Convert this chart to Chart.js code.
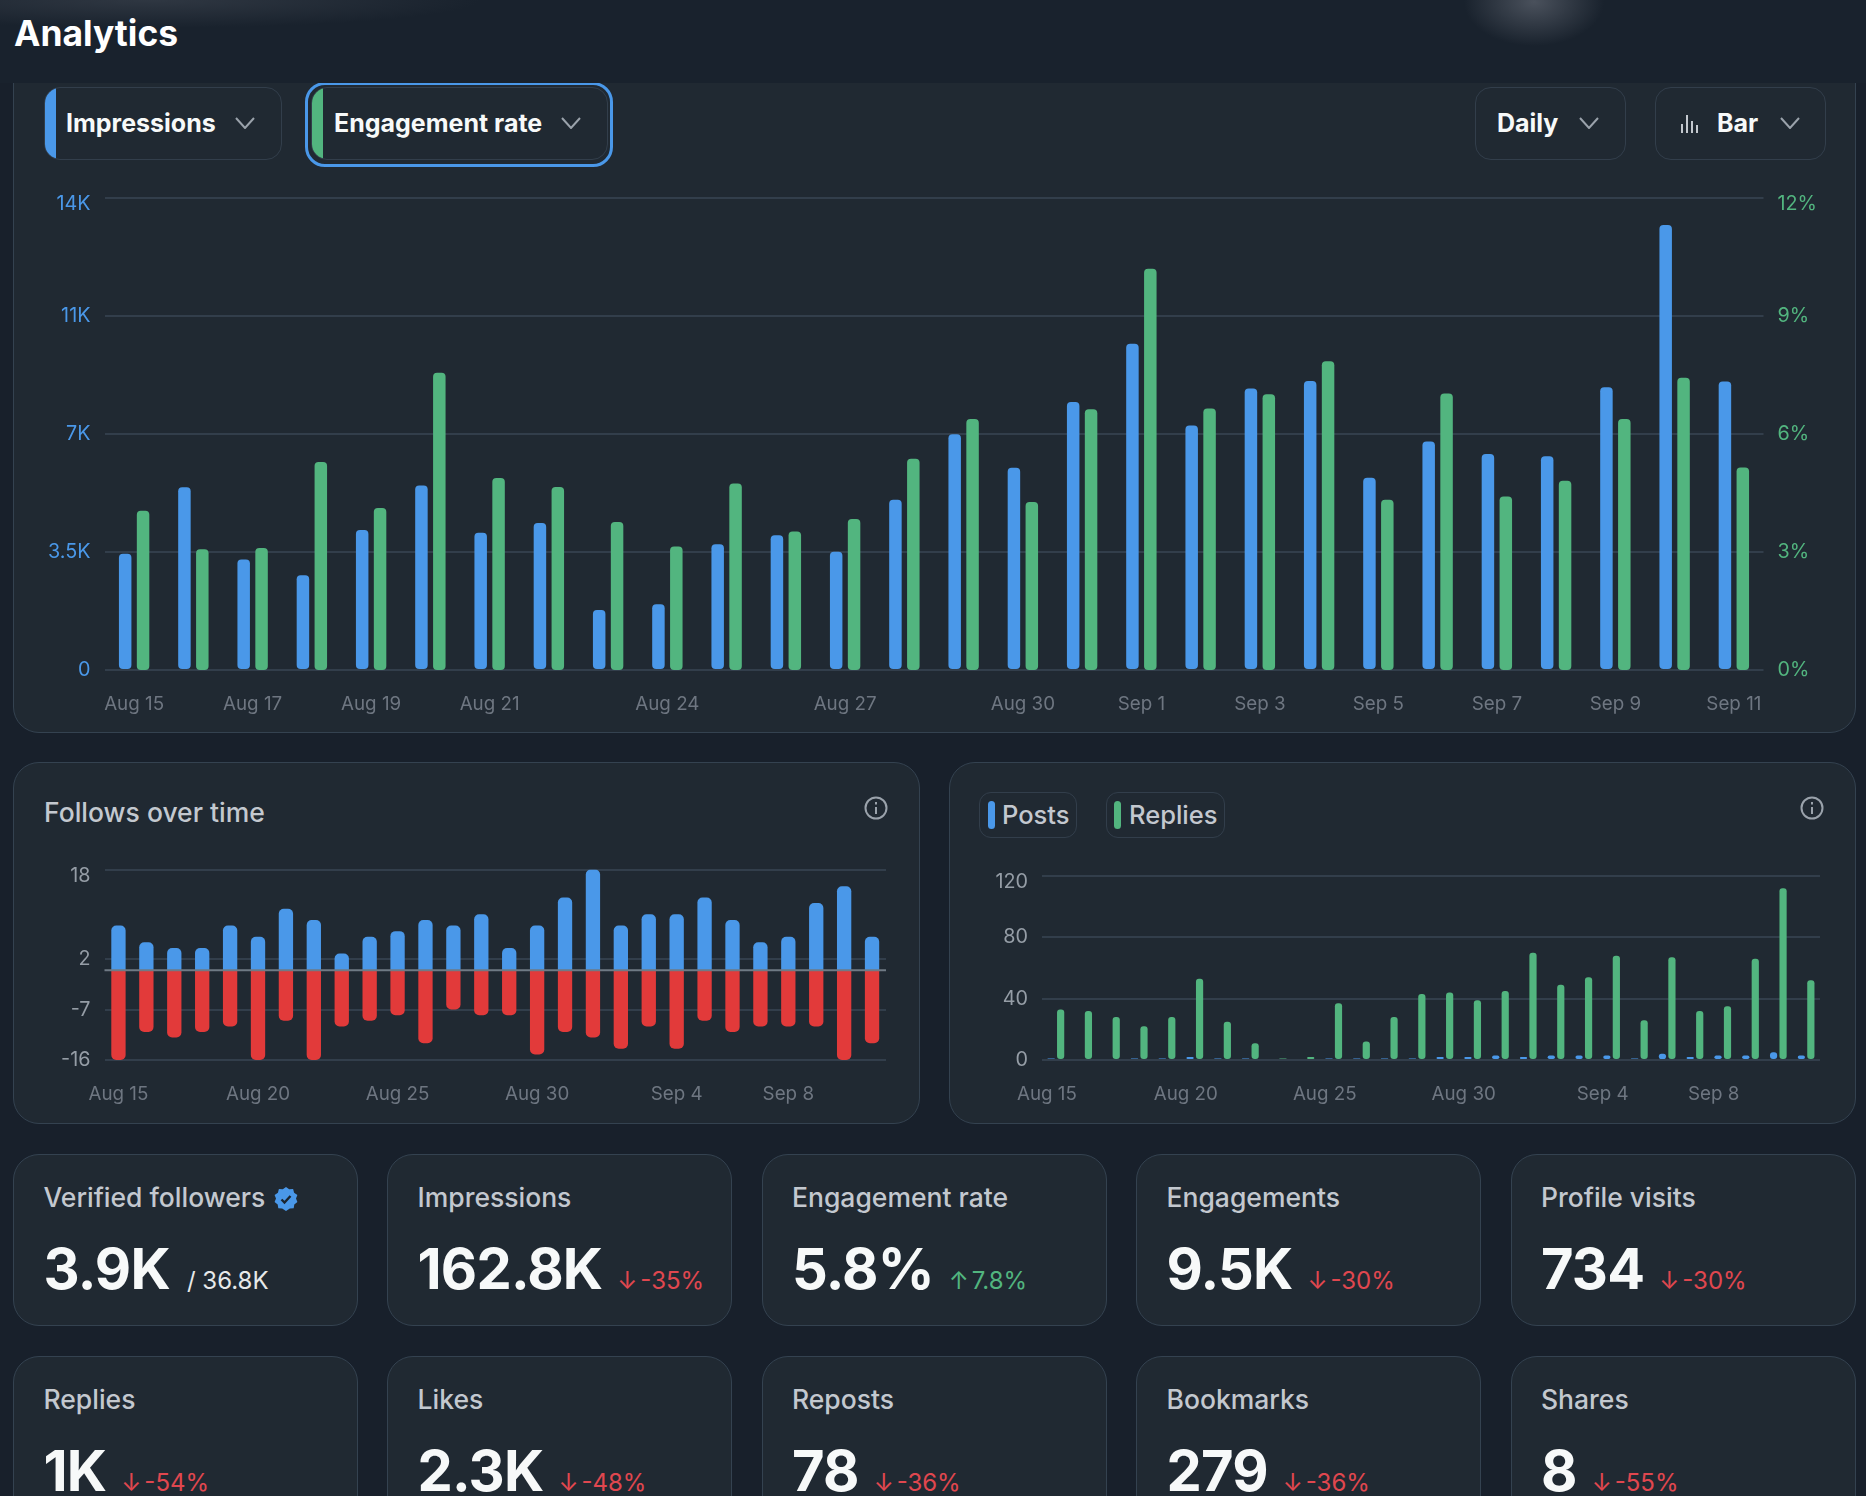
<!DOCTYPE html>
<html>
<head>
<meta charset="utf-8">
<title>Analytics</title>
<script src="https://cdn.jsdelivr.net/npm/chart.js@4/dist/chart.umd.js"></script>
<style>
html, body { margin: 0; padding: 0; background: #18202b; overflow: hidden; }
body { width: 1866px; height: 1496px; position: relative; font-family: Inter, "Noto Sans", sans-serif; }
.abs, .card, .pill, canvas, svg.ic { position: absolute; }
.abs { white-space: nowrap; line-height: 1; }
.card { background: #202932; border: 1.5px solid #344250; border-radius: 26px; box-sizing: border-box; }
.pill { border: 1.5px solid #323e4b; border-radius: 16px; box-sizing: border-box; overflow: hidden; }
.pill i { position: absolute; left: 0; top: 0; bottom: 0; width: 11px; }
.head { position: absolute; left: 0; top: 0; width: 1866px; height: 83px; z-index: 5;
  background: radial-gradient(ellipse 70px 44px at 1534px 2px, #4a515c 0%, rgba(74,81,92,0) 100%),
              radial-gradient(ellipse 330px 28px at 150px 0, #2f3742 0%, rgba(47,55,66,0) 100%), #19222d; }
.bold { font-weight: 700; color: #f7f9f9; font-size: 25px; }
.lab { font-weight: 500; color: #c3c8cf; font-size: 26.5px; }
.leg { font-weight: 500; color: #c3c8cf; font-size: 25.5px; }
.big { font-weight: 700; color: #f7f9f9; font-size: 56px; letter-spacing: -0.8px; }
.delta { font-size: 24px; font-weight: 400; }
</style>
</head>
<body>
<div class="head"><div class="abs" style="left:14px;top:16px;font-size:35.4px;font-weight:700;color:#fff">Analytics</div></div>

<!-- main card -->
<div class="card" style="left:13px;top:40px;width:1843px;height:693px"></div>
<div class="pill" style="left:44px;top:87px;width:238px;height:73px"><i style="background:#4a98e9"></i></div>
<div class="abs bold" style="left:66px;top:110.5px">Impressions</div>
<div class="abs" style="left:305px;top:82px;width:308px;height:85px;box-sizing:border-box;border:3px solid #4a98e9;border-radius:20px;z-index:1"></div>
<div class="pill" style="left:311px;top:87px;width:297px;height:73px"><i style="background:#52b57f"></i></div>
<div class="abs bold" style="left:334px;top:110.5px">Engagement rate</div>
<div class="pill" style="left:1475px;top:87px;width:151px;height:73px"></div>
<div class="abs bold" style="left:1497px;top:110.5px">Daily</div>
<div class="pill" style="left:1655px;top:87px;width:171px;height:73px"></div>
<div class="abs bold" style="left:1717px;top:110.5px">Bar</div>
<svg class="ic" style="left:1680px;top:112px" width="20" height="22" viewBox="0 0 20 22" stroke="#c3c8cf" stroke-width="2"><path d="M2 21V12M7 21V3M12 21V9M17 21V13" fill="none"/></svg>
<canvas id="mainChart" width="1843" height="563" style="left:13px;top:170px"></canvas>

<!-- follows -->
<div class="card" style="left:13px;top:762px;width:907px;height:362px"></div>
<div class="abs lab" style="left:44px;top:798.5px">Follows over time</div>
<canvas id="followsChart" width="907" height="274" style="left:13px;top:850px"></canvas>

<!-- posts / replies -->
<div class="card" style="left:949px;top:762px;width:907px;height:362px"></div>
<div class="pill" style="left:979px;top:792px;width:98px;height:46px;border-radius:12px"><i style="left:8px;top:8px;bottom:8px;width:7px;border-radius:4px;background:#4a98e9"></i></div>
<div class="abs leg" style="left:1002px;top:801.5px">Posts</div>
<div class="pill" style="left:1106px;top:792px;width:119px;height:46px;border-radius:12px"><i style="left:7px;top:8px;bottom:8px;width:7px;border-radius:4px;background:#52b57f"></i></div>
<div class="abs leg" style="left:1129px;top:801.5px">Replies</div>
<canvas id="postsChart" width="907" height="274" style="left:949px;top:850px"></canvas>

<svg class="ic" style="left:864px;top:796px" width="24" height="24" viewBox="0 0 24 24" fill="none" stroke="#9aa2ab" stroke-width="2"><circle cx="12" cy="12" r="10.5"/><path d="M12 11v7M12 6v2.5"/></svg>
<svg class="ic" style="left:1800px;top:796px" width="24" height="24" viewBox="0 0 24 24" fill="none" stroke="#9aa2ab" stroke-width="2"><circle cx="12" cy="12" r="10.5"/><path d="M12 11v7M12 6v2.5"/></svg>

<div id="stats"></div>

<script>
var mainLabels = ['Aug 15','Aug 16','Aug 17','Aug 18','Aug 19','Aug 20','Aug 21','Aug 22','Aug 23','Aug 24','Aug 25','Aug 26','Aug 27','Aug 28','Aug 29','Aug 30','Aug 31','Sep 1','Sep 2','Sep 3','Sep 4','Sep 5','Sep 6','Sep 7','Sep 8','Sep 9','Sep 10','Sep 11'];
var mainTicks = ['Aug 15','Aug 17','Aug 19','Aug 21','Aug 24','Aug 27','Aug 30','Sep 1','Sep 3','Sep 5','Sep 7','Sep 9','Sep 11'];
var impressions = [3450,5420,3280,2810,4150,5470,4070,4360,1780,1950,3730,4000,3510,5050,6990,6000,7950,9680,7250,8350,8570,5700,6780,6410,6340,8390,13200,8560];
var engagement = [4.05,3.07,3.10,5.29,4.12,7.56,4.88,4.65,3.76,3.14,4.74,3.52,3.84,5.37,6.38,4.27,6.63,10.2,6.65,7.01,7.85,4.33,7.03,4.41,4.81,6.38,7.43,5.15];
var impTickLabels = ['0','3.5K','7K','11K','14K'];
var rateTickLabels = ['0%','3%','6%','9%','12%'];

var smallTicks = ['Aug 15','Aug 20','Aug 25','Aug 30','Sep 4','Sep 8'];
var followed = [8,5,4,4,8,6,11,9,3,6,7,9,8,10,4,8,13,18,8,10,10,13,9,5,6,12,15,6];
var unfollowed = [-16,-11,-12,-11,-10,-16,-9,-16,-10,-9,-8,-13,-7,-8,-8,-15,-11,-12,-14,-10,-14,-9,-11,-10,-10,-10,-16,-13];
var followTickValues = [-16,-7,2,18];

var posts = [1,0,0,1,1,2,1,1,0,0,1,1,1,1,2,2,3,2,3,3,3,1,4,2,3,3,5,3];
var replies = [33,32,28,22,28,53,25,11,1,2,37,12,28,43,44,39,45,70,49,54,68,26,67,32,35,66,112,52];
var postTickValues = [0,40,80,120];

var statNames = ['Verified followers','Impressions','Engagement rate','Engagements','Profile visits','Replies','Likes','Reposts','Bookmarks','Shares'];
var statValues = ['3.9K','162.8K','5.8%','9.5K','734','1K','2.3K','78','279','8'];
var statArrows = ['','↓','↑','↓','↓','↓','↓','↓','↓','↓'];
var statDeltas = ['/ 36.8K','-35%','7.8%','-30%','-30%','-54%','-48%','-36%','-36%','-55%'];

var BLUE = '#4a98e9', GREEN = '#52b57f', RED = '#e23a3a', GRID = '#323e4b', XGRAY = '#6e7681', YGRAY = '#959da6';
var FONT = 'Inter, "Noto Sans", sans-serif';

// cards under the charts
var cols = [13, 387, 761.5, 1136, 1510.5];
var badge = '<svg style="margin-left:9px;vertical-align:-4px" width="24" height="24" viewBox="0 0 24 24"><path fill="#4a98e9" d="M12 0l3.2 2.3 3.9-.3 1 3.8 3.3 2.2L22 11.6 23.4 15l-3.1 2.4-.6 3.9-3.9.2L12 24l-3.8-2.5-3.9-.2-.6-3.9L.6 15 2 11.6.6 8l3.3-2.2 1-3.8 3.9.3z"/><path d="M7.5 12.5l3 3 6-6.5" fill="none" stroke="#1b2530" stroke-width="2.4"/></svg>';
var html = '';
statNames.forEach(function(name, i) {
    var x = cols[i % 5], row = Math.floor(i / 5);
    var top = row ? 1356 : 1154;
    html += '<div class="card" style="left:' + x + 'px;top:' + top + 'px;width:345px;height:172px"></div>';
    html += '<div class="abs lab" style="left:' + (x + 30.5) + 'px;top:' + (top + 30) + 'px">' + name + (i == 0 ? badge : '') + '</div>';
    var col = statArrows[i] == '↑' ? GREEN : (statArrows[i] ? '#e0474f' : '#e7e9ea');
    html += '<div class="abs" style="left:' + (x + 30.5) + 'px;top:' + (top + 87) + 'px;display:flex;align-items:baseline">'
        + '<span class="big">' + statValues[i] + '</span>'
        + (statArrows[i] ? '<span class="delta" style="margin-left:15px;color:' + col + '">' + statArrows[i] + '</span>' : '')
        + '<span class="delta" style="margin-left:' + (statArrows[i] ? 3 : 17) + 'px;color:' + col + '">' + statDeltas[i] + '</span></div>';
});
document.getElementById('stats').innerHTML = html;

// little down arrows on the pills
[[235,123],[561,123],[1579,123],[1780,123]].forEach(function(p) {
    var s = document.createElementNS('http://www.w3.org/2000/svg', 'svg');
    s.setAttribute('class', 'ic');
    s.setAttribute('width', 20); s.setAttribute('height', 12);
    s.style.left = p[0] + 'px'; s.style.top = (p[1] - 6) + 'px'; s.style.zIndex = 2;
    s.innerHTML = '<path d="M1 1l9 10 9-10" fill="none" stroke="#9aa2ab" stroke-width="2"/>';
    document.body.appendChild(s);
});

function xAxis(shown, height, pad, extra) {
    return Object.assign({
        stacked: false,
        grid: { display: false },
        border: { display: false },
        afterFit: function(s) { s.height = height; },
        ticks: {
            autoSkip: false, maxRotation: 0, padding: pad, color: XGRAY,
            font: { family: FONT, size: 18.8 },
            callback: function(v) { var c = this.getLabelForValue(v); return shown.indexOf(c) >= 0 ? c : ''; }
        }
    }, extra || {});
}

// fixed axis width, and no extra room for the first/last tick label
function yFit(width) {
    return function(s) { s.width = width; s.paddingTop = 0; s.paddingBottom = 0; };
}

// top label sits a bit under its line, done with an empty first line
function topLow(s, last) { return last ? ['', s] : s; }

function yTicks(color, labelFor, count) {
    return {
        autoSkip: false, padding: 14, color: color,
        font: { family: FONT, size: 19.8, lineHeight: '13px' },
        callback: function(v, i) { return topLow(labelFor(v, i), i == count - 1); }
    };
}

var zeroLine = {
    id: 'zeroLine',
    afterDatasetsDraw: function(c) {
        var y = c.scales.y.getPixelForValue(0), a = c.chartArea, g = c.ctx;
        g.save(); g.strokeStyle = '#6f7a85'; g.lineWidth = 2;
        g.beginPath(); g.moveTo(a.left, y); g.lineTo(a.right, y); g.stroke(); g.restore();
    }
};

Chart.defaults.animation = false;
Chart.defaults.responsive = false;
Chart.defaults.plugins.legend.display = false;
Chart.defaults.plugins.tooltip.enabled = false;

new Chart(document.getElementById('mainChart'), {
    type: 'bar',
    data: {
        labels: mainLabels,
        datasets: [
            { data: impressions, yAxisID: 'y', backgroundColor: BLUE },
            { data: engagement, yAxisID: 'y1', backgroundColor: GREEN }
        ]
    },
    options: {
        layout: { padding: { top: 28 } },
        datasets: { bar: { categoryPercentage: 0.604, barPercentage: 0.698, borderRadius: 4, borderSkipped: false } },
        scales: {
            x: xAxis(mainTicks, 63, 15),
            y: {
                min: 0, max: 14000,
                border: { display: false },
                grid: { color: GRID, lineWidth: 2, drawTicks: false },
                afterFit: yFit(91.5),
                ticks: Object.assign(yTicks(BLUE, function(v, i) { return impTickLabels[i]; }, 5), { stepSize: 3500 })
            },
            y1: {
                position: 'right', min: 0, max: 12,
                border: { display: false },
                grid: { display: false, drawTicks: false },
                afterFit: yFit(92.5),
                ticks: Object.assign(yTicks(GREEN, function(v, i) { return rateTickLabels[i]; }, 5), { stepSize: 3 })
            }
        }
    }
});

new Chart(document.getElementById('followsChart'), {
    type: 'bar',
    data: {
        labels: mainLabels,
        datasets: [
            { data: followed, backgroundColor: BLUE },
            { data: unfollowed, backgroundColor: RED }
        ]
    },
    plugins: [zeroLine],
    options: {
        layout: { padding: { top: 19.5, right: 34 } },
        datasets: { bar: { categoryPercentage: 1, barPercentage: 0.513, borderRadius: 5 } },
        scales: {
            x: xAxis(smallTicks, 64, 15, { stacked: true }),
            y: {
                stacked: true, min: -16, max: 18,
                border: { display: false },
                grid: { color: GRID, lineWidth: 2, drawTicks: false },
                afterFit: yFit(91.5),
                afterBuildTicks: function(s) { s.ticks = followTickValues.map(function(v) { return { value: v }; }); },
                ticks: yTicks(YGRAY, function(v) { return String(v); }, followTickValues.length)
            }
        }
    }
});

new Chart(document.getElementById('postsChart'), {
    type: 'bar',
    data: {
        labels: mainLabels,
        datasets: [
            { data: posts, backgroundColor: BLUE },
            { data: replies, backgroundColor: GREEN }
        ]
    },
    options: {
        layout: { padding: { top: 26, right: 36 } },
        datasets: { bar: { categoryPercentage: 0.683, barPercentage: 0.76, borderRadius: 3, borderSkipped: false } },
        scales: {
            x: xAxis(smallTicks, 64, 15),
            y: {
                min: 0, max: 120,
                border: { display: false },
                grid: { color: GRID, lineWidth: 2, drawTicks: false },
                afterFit: yFit(93),
                afterBuildTicks: function(s) { s.ticks = postTickValues.map(function(v) { return { value: v }; }); },
                ticks: yTicks(YGRAY, function(v) { return String(v); }, postTickValues.length)
            }
        }
    }
});
// tick labels of the last chart are shifted left of the bar groups
Chart.getChart('postsChart').options.scales.x.ticks.labelOffset = -9;
Chart.getChart('postsChart').update();
</script>
</body>
</html>
